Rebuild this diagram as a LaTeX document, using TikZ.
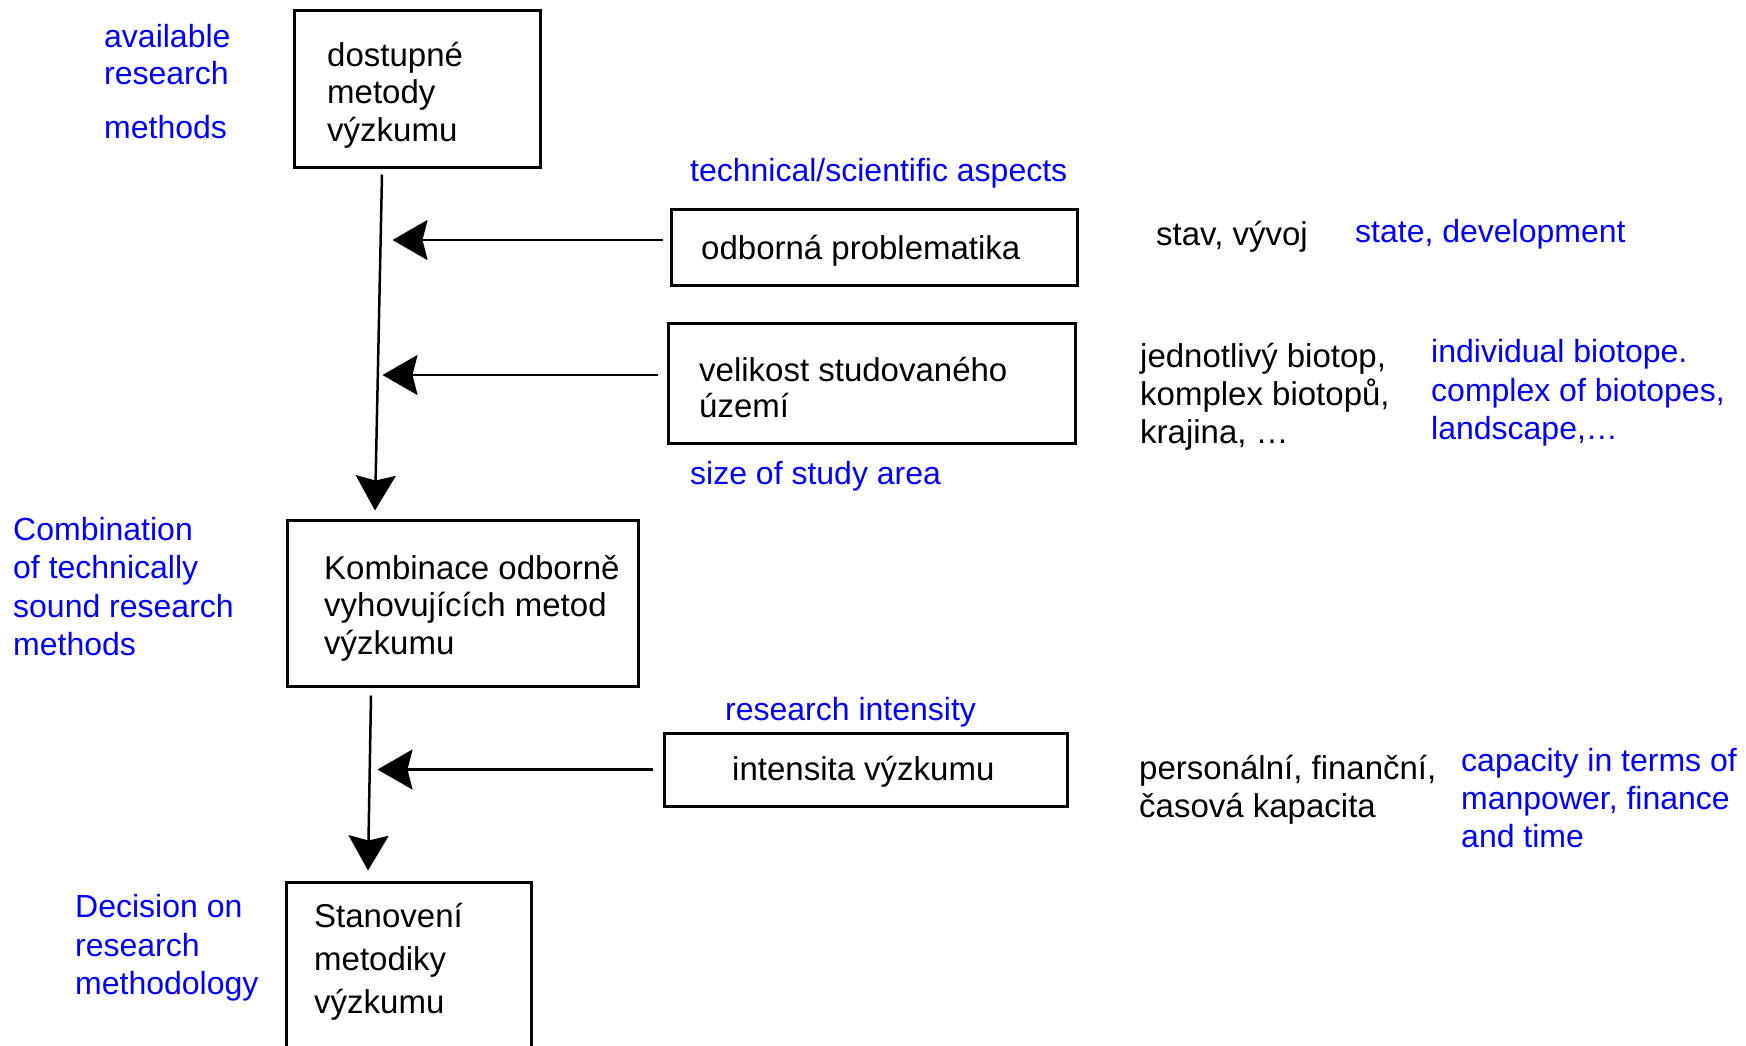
\documentclass[tikz,border=0pt]{standalone}
\usepackage{fontspec}
\setmainfont{Liberation Sans}
\usetikzlibrary{arrows.meta}
\definecolor{eng}{RGB}{0,0,255}
\begin{document}
\begin{tikzpicture}[x=1pt,y=-1pt,
  box/.style={draw, line width=3pt, inner sep=0pt},
  btxt/.style={font=\fontsize{33}{37.5}\selectfont, align=left, inner sep=0pt, anchor=west},
  en/.style={text=eng, font=\fontsize{32}{38.4}\selectfont, align=left, inner sep=0pt, anchor=west},
  arr/.style={line width=2.5pt, -{Stealth[length=35pt,width=40pt,inset=5pt]}}]
\useasboundingbox (0,0) rectangle (1746,1045);
\fill[white] (0,0) rectangle (1746,1045);
% boxes
\node[box, minimum width=246pt, minimum height=157pt] (b1) at (417,88.5) {};
\node[box, minimum width=406pt, minimum height=76pt] (b2) at (874,247) {};
\node[box, minimum width=407pt, minimum height=120pt] (b3) at (871.5,383) {};
\node[box, minimum width=351pt, minimum height=166pt] (b4) at (462.5,603) {};
\node[box, minimum width=403pt, minimum height=73pt] (b5) at (865.5,769.5) {};
\node[box, minimum width=245pt, minimum height=178pt] (b6) at (408.5,971) {};
% box texts
\node[btxt] (t1) at (327,95) {dostupné\\metody\\výzkumu};
\node[btxt] (t2) at (701,251) {odborná problematika};
\node[btxt, font=\fontsize{33}{36}\selectfont] (t3) at (699,388) {velikost studovaného\\území};
\node[btxt] (t4) at (324,608) {Kombinace odborně\\vyhovujících metod\\výzkumu};
\node[btxt] (t5) at (732,772) {intensita výzkumu};
\node[btxt, font=\fontsize{33}{43}\selectfont] (t6) at (314,962) {Stanovení\\metodiky\\výzkumu};
% black side texts
\node[btxt] (stav) at (1156,237) {stav, vývoj};
\node[btxt, font=\fontsize{33}{38}\selectfont] (jedn) at (1140,397) {jednotlivý biotop,\\komplex biotopů,\\krajina, \dots};
\node[btxt, font=\fontsize{33}{38}\selectfont] (pers) at (1139,790) {personální, finanční,\\časová kapacita};
% english texts
\node[en] (av1) at (104,36) {available};
\node[en] (av2) at (104,73) {research};
\node[en] (av3) at (104,127) {methods};
\node[en] (tech) at (690,173) {technical/scientific aspects};
\node[en] (state) at (1355,234) {state, development};
\node[en] (indiv) at (1431,393) {individual biotope.\\complex of biotopes,\\landscape,\dots};
\node[en] (size) at (690,476) {size of study area};
\node[en] (comb) at (13,586.5) {Combination\\of technically\\sound research\\methods};
\node[en] (resint) at (725,712) {research intensity};
\node[en] (capac) at (1461,798) {capacity in terms of\\manpower, finance\\and time};
\node[en] (decis) at (75,948) {Decision on\\research\\methodology};
% arrows
\draw[arr] ([shift={(-35,6)}]b1.south) -- ([shift={(-87.5,-8)}]b4.north);
\draw[arr] ([shift={(-7,-7)}]b2.west) -- ([shift={(-277,-7)}]b2.west);
\draw[arr] ([shift={(-9,-8)}]b3.west) -- ([shift={(-284,-8)}]b3.west);
\draw[arr] ([shift={(-10,0)}]b5.west) -- ([shift={(-285,0)}]b5.west);
\draw[arr] ([shift={(-91.5,8)}]b4.south) -- ([shift={(-40.5,-10)}]b6.north);
\end{tikzpicture}
\end{document}
